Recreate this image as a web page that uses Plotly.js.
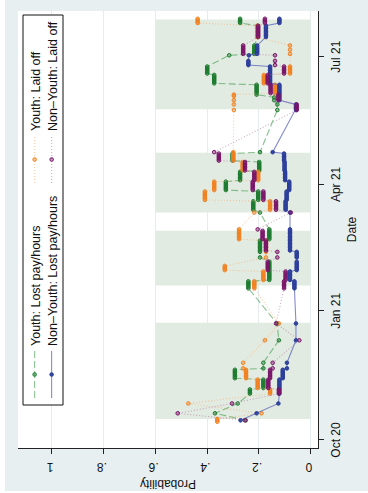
<!DOCTYPE html>
<html>
<head>
<meta charset="utf-8">
<script src="https://cdn.plot.ly/plotly-3.0.1.min.js"></script>
<style>
  html, body { margin: 0; padding: 0; background: #ffffff; width: 368px; height: 493px; overflow: hidden; }
  /* the chart is laid out landscape and turned a quarter turn counter-clockwise */
  #chart { position: absolute; left: 0; top: 0; width: 491px; height: 363px;
           transform-origin: 0 0; transform: translate(5px, 491px) rotate(-90deg); }
</style>
</head>
<body>
<div id="chart"></div>
<script>
// Survey dates (daily interview dates within each wave)
const dates = [
  // autumn 2020
  '2020-10-14','2020-10-15','2020-10-16','2020-10-20','2020-10-27',
  '2020-11-03','2020-11-04','2020-11-05','2020-11-06',
  '2020-11-07','2020-11-08','2020-11-09','2020-11-10','2020-11-11','2020-11-12','2020-11-13',
  '2020-11-14','2020-11-15','2020-11-16','2020-11-17','2020-11-18','2020-11-19','2020-11-20',
  '2020-11-21','2020-11-25','2020-12-11','2020-12-23',
  // winter 2021
  '2021-01-17','2021-01-18','2021-01-19','2021-01-20','2021-01-21','2021-01-22',
  '2021-01-23','2021-01-24','2021-01-25','2021-01-26','2021-01-27','2021-01-28','2021-01-29',
  '2021-01-30','2021-01-31','2021-02-01','2021-02-02','2021-02-03','2021-02-04','2021-02-05',
  '2021-02-08','2021-02-09','2021-02-10','2021-02-11','2021-02-12',
  '2021-02-13','2021-02-14','2021-02-15','2021-02-16','2021-02-17','2021-02-18','2021-02-19','2021-02-20',
  '2021-02-21','2021-02-22','2021-02-23','2021-02-24','2021-02-25','2021-02-26','2021-02-27','2021-02-28',
  // spring 2021
  '2021-03-12',
  '2021-03-14','2021-03-15','2021-03-16','2021-03-17','2021-03-18','2021-03-19','2021-03-20',
  '2021-03-21','2021-03-22','2021-03-23','2021-03-24','2021-03-25','2021-03-26','2021-03-27',
  '2021-03-28','2021-03-29','2021-03-30','2021-03-31','2021-04-01','2021-04-02','2021-04-03',
  '2021-04-04','2021-04-05','2021-04-06','2021-04-07','2021-04-08','2021-04-09','2021-04-10',
  '2021-04-11','2021-04-12','2021-04-13','2021-04-14','2021-04-15','2021-04-16','2021-04-17',
  '2021-04-18','2021-04-19','2021-04-20','2021-04-21','2021-04-22','2021-04-23',
  '2021-04-24',
  // summer 2021
  '2021-05-24','2021-05-25','2021-05-26','2021-05-27','2021-05-28',
  '2021-05-31','2021-06-01','2021-06-02','2021-06-03','2021-06-04',
  '2021-06-05','2021-06-06','2021-06-07','2021-06-08','2021-06-09','2021-06-10','2021-06-11',
  '2021-06-12','2021-06-13','2021-06-14','2021-06-15','2021-06-16','2021-06-17','2021-06-18',
  '2021-06-19','2021-06-20','2021-06-21','2021-06-22','2021-06-23','2021-06-24',
  '2021-06-25','2021-06-26','2021-06-27','2021-06-28',
  '2021-07-02',
  '2021-07-03','2021-07-04','2021-07-05','2021-07-06','2021-07-07','2021-07-08','2021-07-09',
  '2021-07-15','2021-07-16','2021-07-17','2021-07-18','2021-07-19','2021-07-20','2021-07-21','2021-07-22','2021-07-23',
  '2021-07-25','2021-07-26','2021-07-27','2021-07-28'
];

// Youth: Lost pay/hours
const youthLostPay = [
  null,.251,null,.370,.282,
  .235,.235,.235,.235,
  .183,.183,.183,.183,.183,.183,.183,
  .293,.293,.293,.293,.293,.293,.293,
  .183,.183,.123,.130,
  .241,.241,.241,.241,.241,.241,
  .160,.160,.160,.160,.160,.160,.160,
  .160,.160,.160,.160,.160,.160,.160,
  .196,null,null,null,.196,
  .196,.196,.196,.196,.196,.196,.196,.196,
  .160,.160,.160,.160,.160,.160,.160,.160,
  .196,
  .222,.222,.222,.222,.222,.222,.222,
  .203,.203,.203,.203,.203,.203,.203,
  .328,.328,.328,.328,.328,.328,.328,
  .273,.273,.273,.273,.273,.273,.273,
  .199,.199,.199,.199,.199,.199,.199,
  .302,.302,.302,.302,.302,.302,
  .196,
  .129,null,null,null,.129,
  .141,null,.141,null,.209,
  .209,.209,.209,.209,.209,.209,.209,
  .373,.373,.373,.373,.373,.373,.373,
  .400,.400,.400,.400,.400,.400,
  null,null,null,null,
  .315,
  .218,.218,.218,.218,.218,.218,.218,
  .205,.205,.205,.205,.205,.205,.205,.205,.205,
  .273,.273,.273,.273
];

// Youth: Laid off
const youthLaidOff = [
  .361,.361,.361,.190,.473,
  .157,.157,.157,.157,
  .205,.205,.205,.205,.205,.205,.205,
  .250,.250,.250,.250,.250,.250,.250,
  .261,.261,.177,.123,
  .218,.218,.218,.218,.218,.218,
  .183,.183,.183,.183,.183,.183,.183,
  .332,.332,.332,.332,null,null,null,
  .173,null,null,null,.173,
  .173,.173,.173,.173,.173,.173,.173,.173,
  .277,.277,.277,.277,.277,.277,.277,.277,
  .218,
  .157,.157,.157,.157,.157,.157,.157,
  .409,.409,.409,.409,.409,.409,.409,
  .373,.373,.373,.373,.373,.373,.373,
  .203,.203,.203,.203,.203,.203,.203,
  .263,.263,.263,.263,.263,.263,.263,
  .299,.299,.299,.299,.299,.299,
  .299,
  .297,null,null,null,.297,
  .297,null,null,.297,.297,
  .138,.138,.138,.138,.138,.138,.138,
  .181,.181,.181,.181,.181,.181,.181,
  .080,.080,.080,.080,.080,.080,
  null,null,null,null,
  null,
  .080,null,null,.080,null,null,.080,
  .207,.207,.207,.207,.207,.207,.207,.207,.207,
  .437,.437,.437,.437
];

// Non-Youth: Lost pay/hours
const nonYouthLostPay = [
  null,.271,null,.209,.125,
  .121,.121,.121,.121,
  .121,.121,.121,.121,.121,.121,.121,
  .108,.108,.108,.108,.108,.108,.108,
  .092,.092,.057,.057,
  .063,.063,.063,.063,.063,.063,
  .080,.080,.080,.080,.080,.080,.080,
  .054,.054,.054,.054,.054,.054,.054,
  .054,.054,.054,.054,.054,
  .080,.080,.080,.080,.080,.080,.080,.080,
  .080,.080,.080,.080,.080,.080,.080,.080,
  .080,
  .097,.097,.097,.097,.097,.097,.097,
  .093,.093,.093,.093,.093,.093,.093,
  .083,.083,.083,.083,.083,.083,.083,
  .099,.099,.099,.099,.099,.099,.099,
  .101,.101,.101,.101,.101,.101,.101,
  .103,.103,.103,.103,.103,.103,
  .147,
  .057,.057,.057,.057,.057,
  .121,.121,.121,.121,.121,
  .121,.121,.121,.121,.121,.121,.121,
  .157,.157,.157,.157,.157,.157,.157,
  .157,.157,.157,.157,.157,.157,
  .241,.241,.241,.241,
  .239,
  .207,.207,.207,.207,.207,.207,.207,
  .173,.173,.173,.173,.173,.173,.173,.173,.173,
  .121,.121,.121,.121
];

// Non-Youth: Laid off
const nonYouthLaidOff = [
  null,.254,null,.514,.304,
  .123,.123,.123,.123,
  .164,.164,.164,.164,.164,.164,.164,
  .157,.157,.157,.157,.157,.157,.157,
  .147,.147,.044,.134,
  .103,.103,.103,.103,.103,.103,
  .097,.097,.097,.097,.097,.097,.097,
  .166,.166,.166,.166,.166,.166,.166,
  .129,null,null,null,.129,
  .173,.173,.173,.173,.173,.173,.173,.173,
  .186,.186,.186,.186,.186,.186,.186,.205,
  .077,
  .134,.134,.134,.134,.134,.134,.134,
  .183,.183,.183,.183,.183,.183,.183,
  .224,.224,.224,.224,.224,.224,.224,
  .218,.218,.218,.218,.218,.218,.218,
  .254,.254,.254,.254,.254,.254,.254,
  .355,.355,.355,.355,.355,.355,
  .373,
  .054,.054,.054,.054,.054,
  .125,.125,.125,.125,.125,
  .155,.155,.155,.155,.155,.155,.155,
  .166,.166,.166,.166,.166,.166,.166,
  .103,.103,.103,.103,.103,.103,
  .138,null,null,.138,
  .138,
  .261,.261,.261,.261,.261,.261,.261,
  .203,.203,.203,.203,.203,.203,.203,.203,.203,
  .177,.177,.177,.177
];

// Shaded survey periods
const periodStart = ['2020-10-16', '2021-01-19', '2021-03-12', '2021-05-24 12:00'];
const periodEnd   = ['2020-12-23 12:00', '2021-02-27', '2021-04-23 12:00', '2021-07-27 12:00'];
const periodTop = 0.6;

// Axis ticks
const dateTicks = ['2020-10-01', '2021-01-01', '2021-04-01', '2021-07-01'];
const dateTickText = ['Oct 20', 'Jan 21', 'Apr 21', 'Jul 21'];
const probTicks = [0, 0.2, 0.4, 0.6, 0.8, 1];
const probTickText = ['0', '.2', '.4', '.6', '.8', '1'];

const seriesNames = ['Youth: Lost pay/hours', 'Youth: Laid off',
                     'Non\u2013Youth: Lost pay/hours', 'Non\u2013Youth: Laid off'];

const FONT = 'Liberation Sans, Arial, Helvetica, sans-serif';

function series(name, y, legendId, edge, fill, lineColor, dash) {
  return {
    type: 'scatter', mode: 'lines+markers', name: name,
    x: dates, y: y, connectgaps: true, legend: legendId,
    line: { color: lineColor, width: 1.1, dash: dash },
    marker: { symbol: 'circle', size: 3.6, color: fill, line: { color: edge, width: 1 } },
    hoverinfo: 'skip'
  };
}

// tinted rings for three series, solid dots for the fourth
const traces = [
  series(seriesNames[0], youthLostPay, 'legend', '#1B7A2D', 'rgba(27,122,45,0.45)', 'rgba(70,160,85,0.65)', '7px,3px'),
  series(seriesNames[1], youthLaidOff, 'legend2', '#F2811F', 'rgba(242,129,31,0.45)', 'rgba(246,170,110,0.6)', '1px,2px'),
  series(seriesNames[2], nonYouthLostPay, 'legend3', '#2B3D9A', '#34479F', 'rgba(80,90,185,0.7)', 'solid'),
  series(seriesNames[3], nonYouthLaidOff, 'legend4', '#7A1469', 'rgba(122,20,105,0.45)', 'rgba(165,105,155,0.55)', '1px,2px')
];

const W = 491, H = 363;
const M = { l: 43, r: 11, t: 13, b: 50 };
const PW = W - M.l - M.r, PH = H - M.t - M.b;

const shapes = periodStart.map((s, i) => ({
  type: 'rect', xref: 'x', yref: 'y', x0: s, x1: periodEnd[i], y0: 0, y1: periodTop,
  fillcolor: '#E2EBE1', line: { width: 0 }, layer: 'between'
}));
// legend frame
shapes.push({ type: 'rect', xref: 'paper', yref: 'paper',
  x0: (86 - M.l) / PW, x1: (476 - M.l) / PW, y0: 1 - (58 - M.t) / PH, y1: 1 - (18 - M.t) / PH,
  fillcolor: '#FFFFFF', line: { color: '#111111', width: 1 }, layer: 'above' });

// legend entries placed in pixel terms inside the plot area
function legendAt(px, py) {
  return { x: (px - M.l) / PW, y: 1 - (py - M.t) / PH, xref: 'paper', yref: 'paper',
           xanchor: 'left', yanchor: 'middle', orientation: 'v',
           bgcolor: 'rgba(0,0,0,0)', borderwidth: 0, itemwidth: 47,
           font: { family: FONT, size: 12.5, color: '#111' } };
}

const layout = {
  width: W, height: H,
  margin: { l: M.l, r: M.r, t: M.t, b: M.b, pad: 0, autoexpand: false },
  paper_bgcolor: '#E8EFF1',
  plot_bgcolor: '#FFFFFF',
  font: { family: FONT, size: 12, color: '#111' },
  showlegend: true,
  xaxis: {
    type: 'date', range: ['2020-09-25 07:00', '2021-08-02 13:00'],
    tickvals: dateTicks, ticktext: dateTickText,
    ticks: 'outside', ticklen: 5, tickcolor: '#222', tickwidth: 1,
    showline: true, linecolor: '#222', linewidth: 1,
    showgrid: false, zeroline: false, ticklabelstandoff: 2,
    tickfont: { family: FONT, size: 12, color: '#111' },
    title: { text: 'Date', standoff: 5, font: { family: FONT, size: 12, color: '#111' } }
  },
  yaxis: {
    range: [-0.0282, 1.1314],
    tickvals: probTicks, ticktext: probTickText, tickangle: -90,
    ticks: 'outside', ticklen: 5, tickcolor: '#222', tickwidth: 1,
    showline: true, linecolor: '#222', linewidth: 1,
    showgrid: true, gridcolor: '#E4ECEE', gridwidth: 1, zeroline: false,
    ticklabelstandoff: 4,
    tickfont: { family: FONT, size: 12, color: '#111' },
    title: { text: 'Probability', standoff: 8, font: { family: FONT, size: 12, color: '#111' } }
  },
  shapes: shapes,
  legend: legendAt(88, 30),
  legend2: legendAt(303, 30),
  legend3: legendAt(88, 47),
  legend4: legendAt(303, 47)
};

Plotly.newPlot('chart', traces, layout, { staticPlot: true, displayModeBar: false });
</script>
</body>
</html>
